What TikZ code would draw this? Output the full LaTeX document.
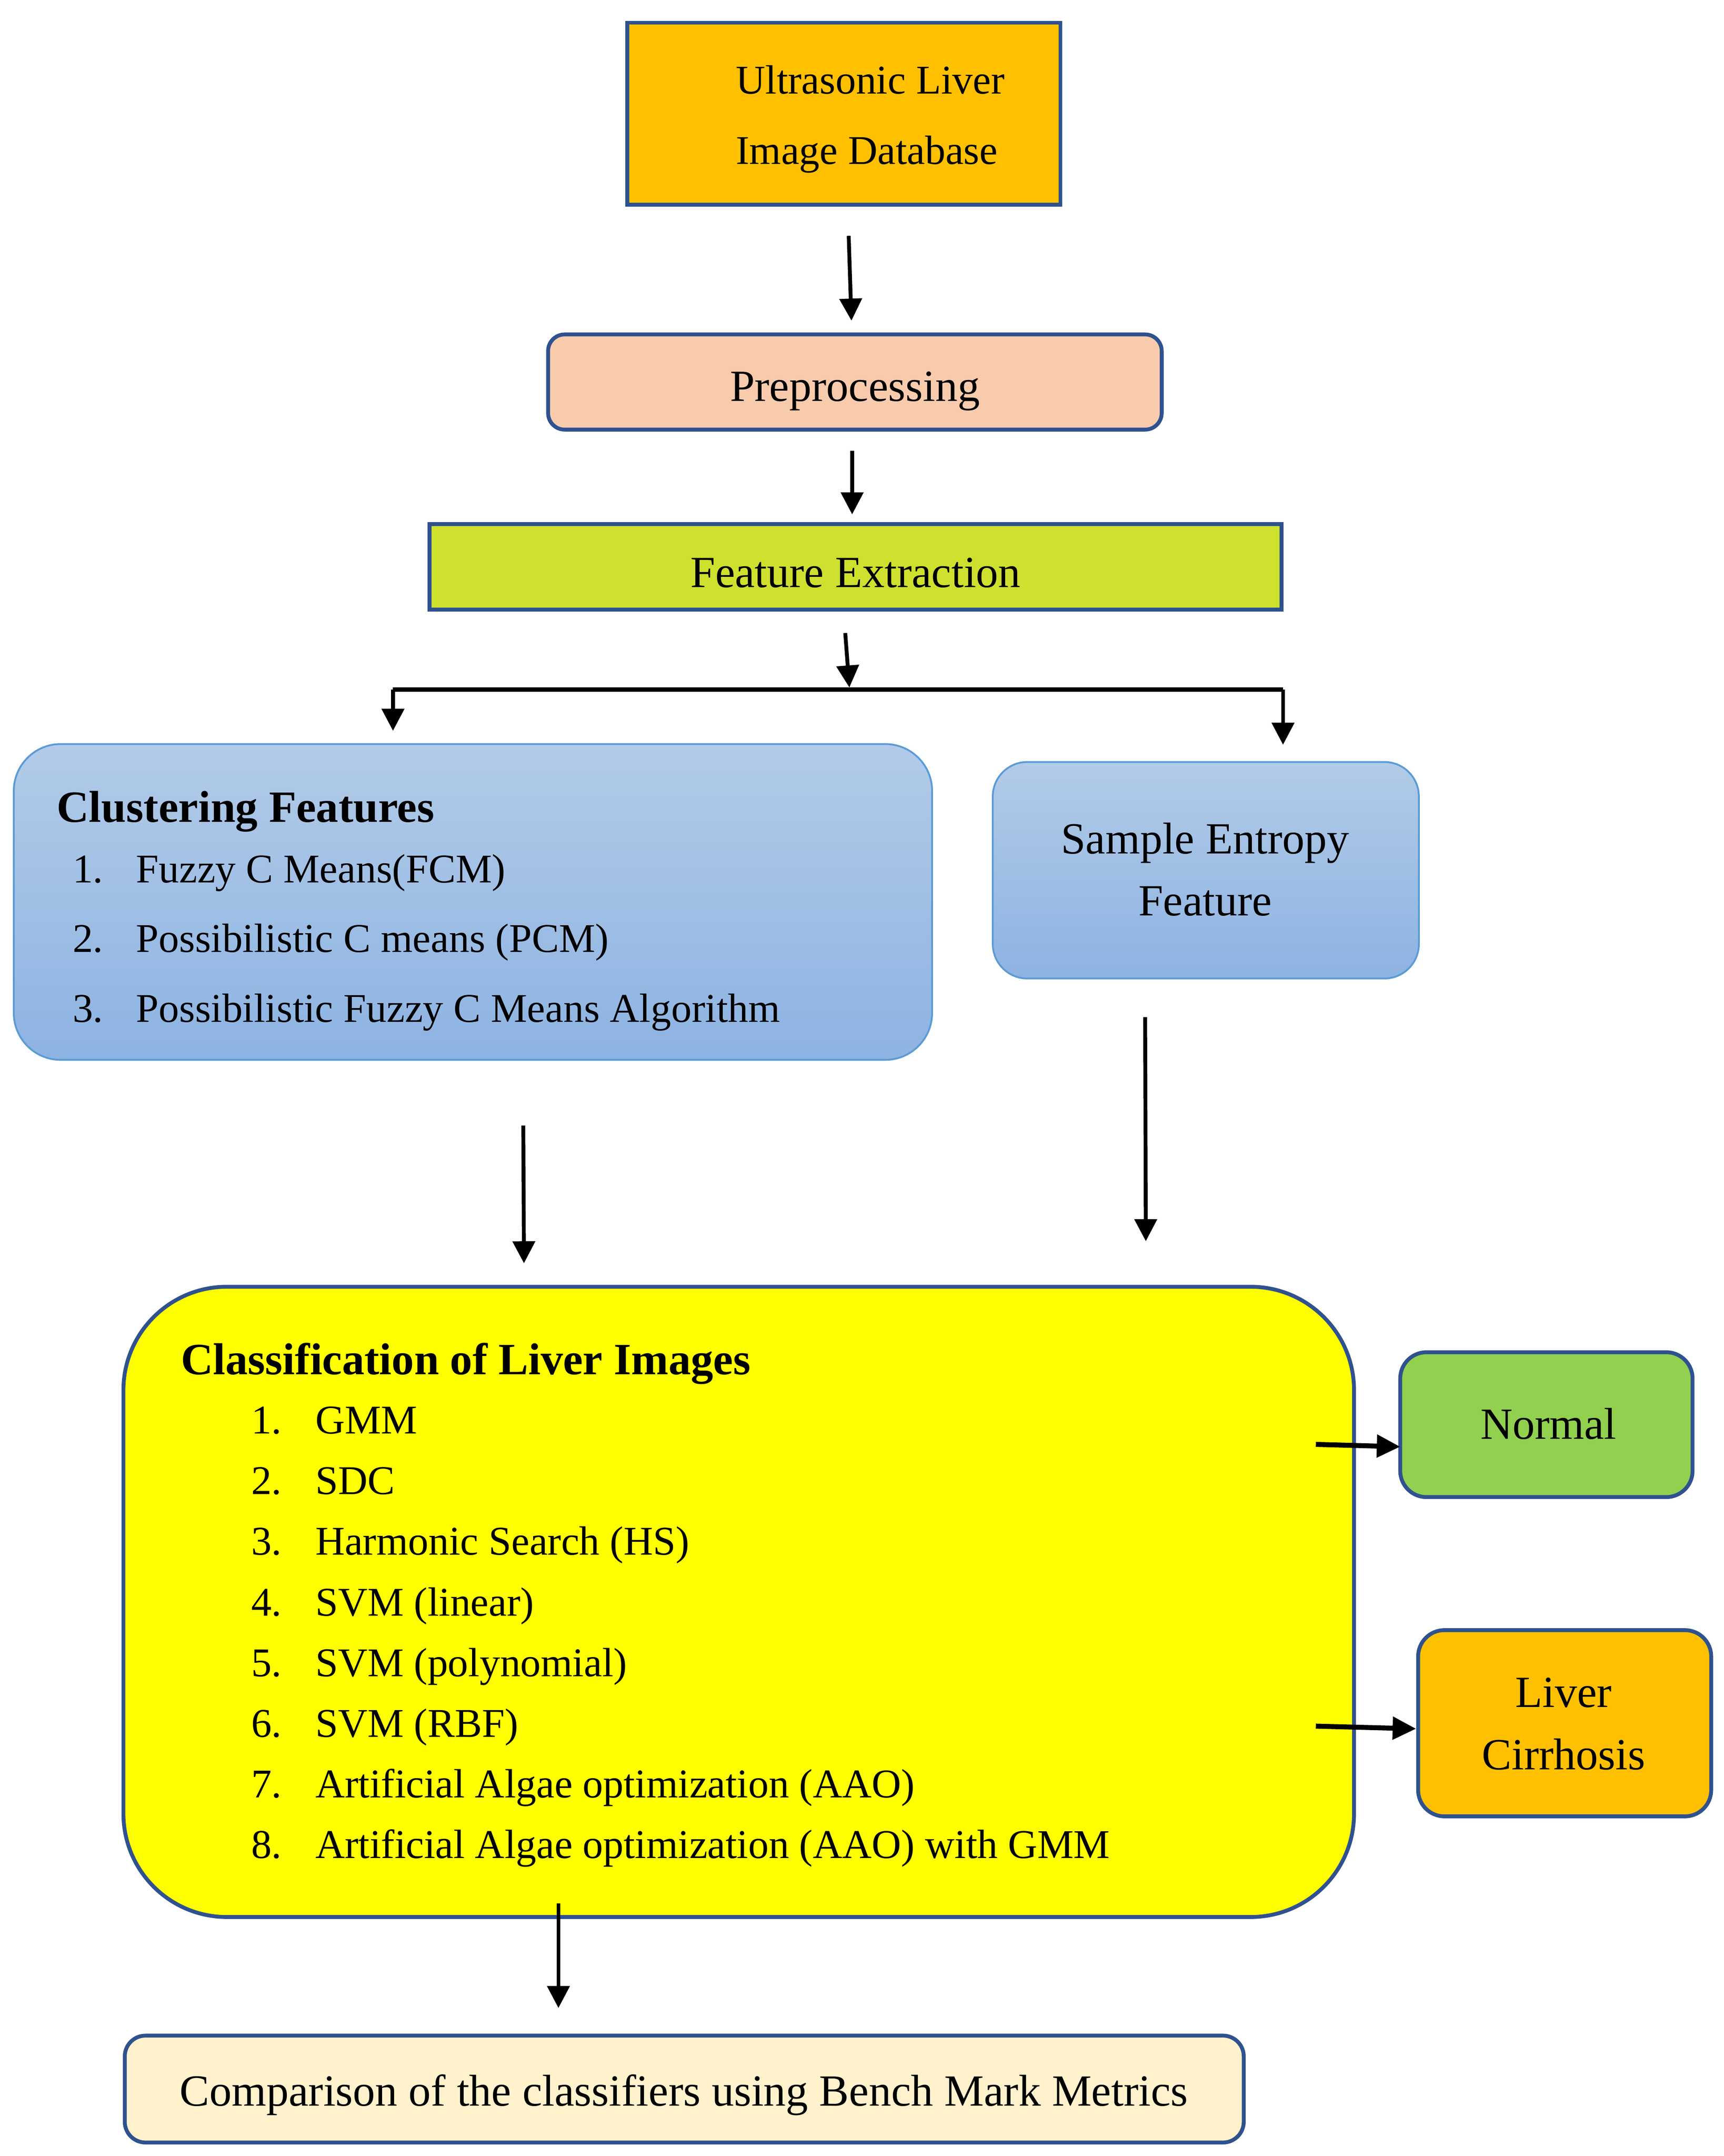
\documentclass[tikz,border=0pt]{standalone}
\usepackage{fontspec}
\setmainfont{Liberation Serif}
\usetikzlibrary{arrows.meta,calc}
\definecolor{bord}{HTML}{2F528F}
\definecolor{orng}{HTML}{FFC000}
\definecolor{peach}{HTML}{F8CBAD}
\definecolor{lime}{HTML}{CFE02E}
\definecolor{bluetop}{HTML}{B2CBE8}
\definecolor{bluebot}{HTML}{8DB3E2}
\definecolor{blueline}{HTML}{5B9BD5}
\definecolor{ylw}{HTML}{FFFF00}
\definecolor{grn}{HTML}{92D050}
\definecolor{cream}{HTML}{FFF2CC}
\begin{document}
\begin{tikzpicture}[x=1pt,y=-1pt,
  box/.style={draw=bord, line width=2.8pt, inner sep=0pt, outer sep=0pt},
  bluebox/.style={draw=blueline, line width=1.3pt, top color=bluetop, bottom color=bluebot, inner sep=0pt, outer sep=0pt},
  big/.style={font=\fontsize{32.3}{38}\selectfont},
  bold/.style={font=\fontsize{32.4}{38}\selectfont\bfseries},
  med/.style={font=\fontsize{29.6}{36}\selectfont},
  ctxt/.style={inner sep=0pt, anchor=base},
  ltxt/.style={inner sep=0pt, anchor=base west},
  arr/.style={line width=2.8pt, -{Triangle[width=16pt,length=16pt]}},
  thickarr/.style={line width=3.6pt, -{Triangle[width=16pt,length=17pt]}},
  plain/.style={line width=3pt},
]
\fill[white] (0,0) rectangle (1250,1563.3);
\useasboundingbox (0,0) rectangle (1250,1563.3);

% boxes
\node[box, fill=orng, minimum width=314pt, minimum height=132pt] (db) at (612,82.5) {};
\node[box, fill=peach, rounded corners=12pt, minimum width=445pt, minimum height=69pt] (pre) at (620,277) {};
\node[box, fill=lime, minimum width=618pt, minimum height=62pt] (fe) at (620.5,411) {};
\node[bluebox, rounded corners=34pt, minimum width=666pt, minimum height=229pt] (clu) at (343,654) {};
\node[bluebox, rounded corners=25pt, minimum width=309pt, minimum height=157pt] (se) at (874.5,631) {};
\node[box, fill=ylw, rounded corners=75pt, minimum width=892.5pt, minimum height=457pt] (cls) at (535.75,1161.5) {};
\node[box, fill=grn, rounded corners=19pt, minimum width=212pt, minimum height=105pt] (nor) at (1121.5,1033) {};
\node[box, fill=orng, rounded corners=19pt, minimum width=212.5pt, minimum height=135pt] (cir) at (1134.75,1249.5) {};
\node[box, fill=cream, rounded corners=15pt, minimum width=811.5pt, minimum height=77.5pt] (cmp) at (496.25,1514.75) {};

% texts
\node[ltxt, med] (dbA) at (533.5,68) {Ultrasonic Liver};
\node[ltxt, med] (dbB) at (533.5,119) {Image Database};
\node[ctxt, big] (preT) at (620,291) {Preprocessing};
\node[ctxt, big] (feT) at (620.5,426) {Feature Extraction};

\node[ltxt, bold] (cluT) at (41,596) {Clustering Features};
\node[ltxt, med] (cluN1) at (52.5,640) {1.};
\node[ltxt, med] (cluI1) at (98.5,640) {Fuzzy C Means(FCM)};
\node[ltxt, med] (cluN2) at (52.5,690.5) {2.};
\node[ltxt, med] (cluI2) at (98.5,690.5) {Possibilistic C means (PCM)};
\node[ltxt, med] (cluN3) at (52.5,741) {3.};
\node[ltxt, med] (cluI3) at (98.5,741) {Possibilistic Fuzzy C Means Algorithm};

\node[ctxt, big] (seA) at (874,619) {Sample Entropy};
\node[ctxt, big] (seB) at (874,664) {Feature};

\node[ltxt, bold] (clsT) at (131,996.5) {Classification of Liver Images};
\node[ltxt, med] (clsN1) at (182,1039.5) {1.};
\node[ltxt, med] (clsI1) at (228.5,1039.5) {GMM};
\node[ltxt, med] (clsN2) at (182,1083.5) {2.};
\node[ltxt, med] (clsI2) at (228.5,1083.5) {SDC};
\node[ltxt, med] (clsN3) at (182,1127.5) {3.};
\node[ltxt, med] (clsI3) at (228.5,1127.5) {Harmonic Search (HS)};
\node[ltxt, med] (clsN4) at (182,1171.5) {4.};
\node[ltxt, med] (clsI4) at (228.5,1171.5) {SVM (linear)};
\node[ltxt, med] (clsN5) at (182,1215.5) {5.};
\node[ltxt, med] (clsI5) at (228.5,1215.5) {SVM (polynomial)};
\node[ltxt, med] (clsN6) at (182,1259.5) {6.};
\node[ltxt, med] (clsI6) at (228.5,1259.5) {SVM (RBF)};
\node[ltxt, med] (clsN7) at (182,1303.5) {7.};
\node[ltxt, med] (clsI7) at (228.5,1303.5) {Artificial Algae optimization (AAO)};
\node[ltxt, med] (clsN8) at (182,1347.5) {8.};
\node[ltxt, med] (clsI8) at (228.5,1347.5) {Artificial Algae optimization (AAO) with GMM};

\node[ctxt, big] (norT) at (1123,1043.5) {Normal};
\node[ctxt, big] (cirA) at (1134,1238) {Liver};
\node[ctxt, big] (cirB) at (1134,1283) {Cirrhosis};
\node[ctxt, big] (cmpT) at (496,1527) {Comparison of the classifiers using Bench Mark Metrics};

% connectors
\coordinate (sl) at (285,500);
\coordinate (sr) at (930.5,500);
\coordinate (srT) at (930.5,540);
\draw[arr] ($(db.south)+(3.5,22.5)$) -- ($(pre.north)+(-2.5,-10)$);
\draw[arr] ($(pre.south)+(-2,15.5)$) -- ($(fe.north)+(-2.5,-7)$);
\draw[arr] ($(fe.south)+(-7.5,17)$) -- ($(fe.south)+(-4.5,56.5)$);
\draw[plain] (sl) -- (sr);
\draw[arr] (sl) -- ($(sl |- clu.north)+(0,-9.6)$);
\draw[arr] (sr) -- (srT);
\draw[arr] ($(clu.south)+(36.5,47.6)$) -- ($(cls.north)+(-155.75,-17)$);
\draw[arr] ($(se.south)+(-44,28)$) -- ($(cls.north)+(295.25,-33)$);
\draw[thickarr] ($(cls.east)+(-27.7,-114.2)$) -- ($(nor.west)+(0,16)$);
\draw[thickarr] ($(cls.east)+(-27.7,90.1)$) -- ($(cir.west)+(-1.5,4)$);
\draw[arr] ($(cls.south)+(-130.75,-10)$) -- ($(cmp.north)+(-91.25,-20)$);
\end{tikzpicture}
\end{document}
